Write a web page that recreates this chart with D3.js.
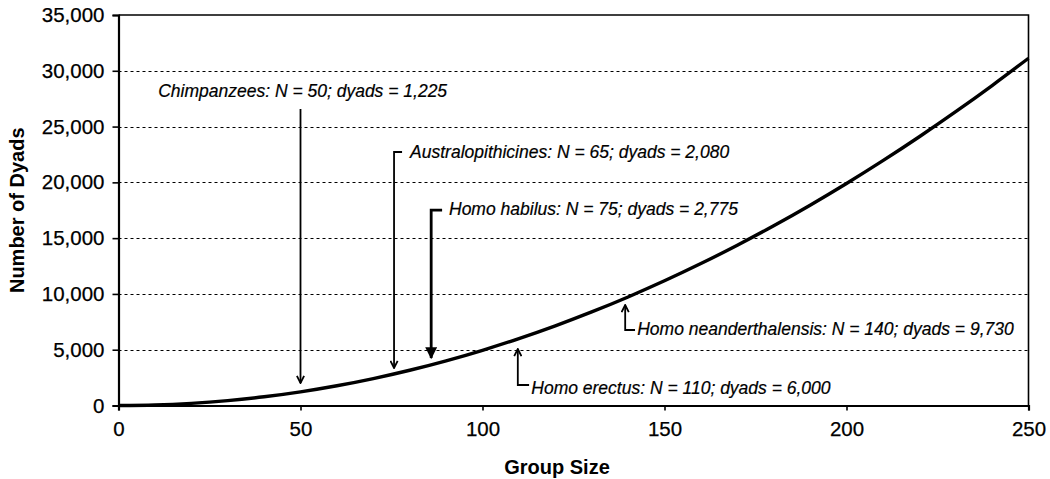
<!DOCTYPE html>
<html>
<head>
<meta charset="utf-8">
<script src="https://cdn.jsdelivr.net/npm/d3@7"></script>
<style>
  body { margin: 0; background: #fff; }
  svg { display: block; font-family: "Liberation Sans", Arial, sans-serif; }
</style>
</head>
<body>
<div id="box"></div>
<script>
// values
const groupSizes = [0, 10, 20, 30, 40, 50, 60, 70, 80, 90, 100, 110, 120, 130, 140,
  150, 160, 170, 180, 190, 200, 210, 220, 230, 240, 250];
const dyadCounts = [0, 45, 190, 435, 780, 1225, 1770, 2415, 3160, 4005, 4950, 5995, 7140,
  8385, 9730, 11175, 12720, 14365, 16110, 17955, 19900, 21945, 24090, 26335, 28680, 31125];

const xTicks = [0, 50, 100, 150, 200, 250];
const yTicks = [0, 5000, 10000, 15000, 20000, 25000, 30000, 35000];

const calloutLabels = [
  'Chimpanzees: N = 50; dyads = 1,225',
  'Australopithicines: N = 65; dyads = 2,080',
  'Homo habilus: N = 75; dyads = 2,775',
  'Homo erectus: N = 110; dyads = 6,000',
  'Homo neanderthalensis: N = 140; dyads = 9,730'
];

// callout geometry, in data units (group size, dyads)
const callouts = [
  { kind: 'plain', tx: 10.9, ty: 27650, ax: 50, from: 26575, to: 2017 },
  { kind: 'elbow', tx: 80.1, ty: 22200, ax: 75.7, ex: 77.9, from: 22720, to: 3361 },
  { kind: 'elbow', tx: 90.8, ty: 17075, ax: 85.9, ex: 88.9, from: 17520, to: 4257, bold: true },
  { kind: 'elbow', tx: 113.4, ty: 1030, ax: 109.7, ex: 112.8, from: 1837, to: 5064 },
  { kind: 'elbow', tx: 142.5, ty: 6319, ax: 139.2, ex: 141.9, from: 6767, to: 9008 }
];

const width = 1050, height = 479;
const padLeft = 118.5, padRight = 1028.5, padTop = 15, padBottom = 405.5;

const svg = d3.select('#box').append('svg')
  .attr('width', width)
  .attr('height', height);

const x = d3.scaleLinear().domain([0, 250]).range([padLeft, padRight]);
const y = d3.scaleLinear().domain([0, 35000]).range([padBottom, padTop]);

// arrow heads
const defs = svg.append('defs');
defs.append('marker')
  .attr('id', 'head')
  .attr('viewBox', '0 0 10 10')
  .attr('refX', 9).attr('refY', 5)
  .attr('markerWidth', 9).attr('markerHeight', 9)
  .attr('markerUnits', 'userSpaceOnUse')
  .attr('orient', 'auto')
  .append('path')
  .attr('d', 'M1,1 L9,5 L1,9')
  .style('fill', 'none')
  .style('stroke', '#000')
  .style('stroke-width', 2);
defs.append('marker')
  .attr('id', 'headBold')
  .attr('viewBox', '0 0 10 10')
  .attr('refX', 9).attr('refY', 5)
  .attr('markerWidth', 14).attr('markerHeight', 12)
  .attr('markerUnits', 'userSpaceOnUse')
  .attr('orient', 'auto')
  .append('path')
  .attr('d', 'M0,0 L10,5 L0,10 Z')
  .style('fill', '#000');

// dotted grid lines
svg.append('g')
  .selectAll('line')
  .data(yTicks.filter(d => d > 0 && d < 35000))
  .join('line')
  .attr('x1', padLeft).attr('x2', padRight)
  .attr('y1', d => Math.round(y(d)) + 0.5).attr('y2', d => Math.round(y(d)) + 0.5)
  .style('stroke', '#000')
  .style('stroke-width', 1)
  .style('stroke-dasharray', '3,3');

// frame top / right
svg.append('path')
  .attr('d', `M${padLeft},${padTop} H${padRight} V${padBottom}`)
  .style('fill', 'none')
  .style('stroke', '#000')
  .style('stroke-width', 1.6);

// axes
const yAxis = svg.append('g')
  .attr('transform', `translate(${padLeft},0)`)
  .call(d3.axisLeft(y).tickValues(yTicks).tickFormat(d3.format(',')).tickSize(6).tickPadding(8));
const xAxis = svg.append('g')
  .attr('transform', `translate(0,${padBottom})`)
  .call(d3.axisBottom(x).tickValues(xTicks).tickSize(5).tickPadding(11));

[xAxis, yAxis].forEach(a => {
  a.select('.domain').style('stroke', '#000').style('stroke-width', 2.2);
  a.selectAll('.tick line').style('stroke', '#000').style('stroke-width', 1.6);
  a.selectAll('.tick text')
    .style('font-family', '"Liberation Sans", Arial, sans-serif')
    .style('font-size', '20.5px')
    .style('fill', '#000')
    .style('stroke', '#000')
    .style('stroke-width', 0.25);
});

// axis titles
svg.append('text')
  .attr('transform', `translate(24,${(padTop + padBottom) / 2}) rotate(-90)`)
  .attr('text-anchor', 'middle')
  .style('font-size', '20px')
  .style('font-weight', 'bold')
  .text('Number of Dyads');

svg.append('text')
  .attr('x', 557).attr('y', 474)
  .attr('text-anchor', 'middle')
  .style('font-size', '20px')
  .style('font-weight', 'bold')
  .text('Group Size');

// the curve
const line = d3.line()
  .x((d, i) => x(groupSizes[i]))
  .y(d => y(d))
  .curve(d3.curveMonotoneX);

svg.append('path')
  .datum(dyadCounts)
  .attr('d', line)
  .style('fill', 'none')
  .style('stroke', '#000')
  .style('stroke-width', 3.4);

// callouts
const cg = svg.append('g');
callouts.forEach((c, i) => {
  let d;
  if (c.kind === 'plain') {
    d = `M${x(c.ax)},${y(c.from)} V${y(c.to)}`;
  } else {
    d = `M${x(c.ex)},${y(c.from)} H${x(c.ax)} V${y(c.to)}`;
  }
  cg.append('path')
    .attr('d', d)
    .style('fill', 'none')
    .style('stroke', '#000')
    .style('stroke-width', c.bold ? 2.8 : 1.8)
    .attr('marker-end', c.bold ? 'url(#headBold)' : 'url(#head)');

  cg.append('text')
    .attr('x', x(c.tx))
    .attr('y', y(c.ty))
    .style('font-size', '17.5px')
    .style('font-style', 'italic')
    .style('stroke', '#000')
    .style('stroke-width', 0.2)
    .text(calloutLabels[i]);
});
</script>
</body>
</html>
